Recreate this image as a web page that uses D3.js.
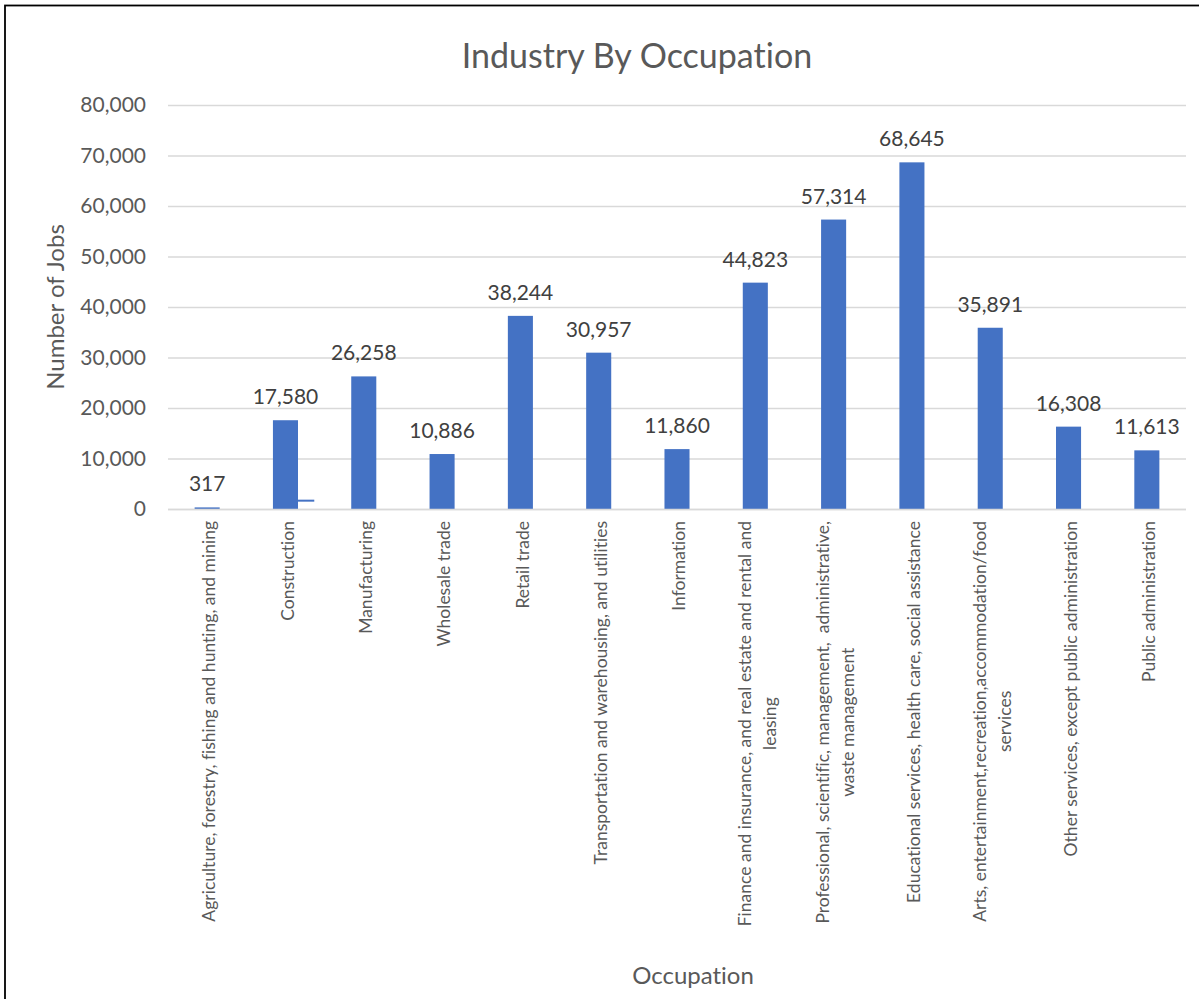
<!DOCTYPE html>
<html>
<head>
<meta charset="utf-8">
<script src="https://cdn.jsdelivr.net/npm/d3@7"></script>
<style>
  html, body { margin: 0; padding: 0; background: #fff; }
  svg { display: block; }
  text { font-family: Lato, "Open Sans", sans-serif; font-variant-ligatures: none; font-feature-settings: "liga" 0, "clig" 0; }
</style>
</head>
<body>
<svg id="chart" width="1199" height="999"></svg>
<script>
// ---- data ----
const categories = [
  ["Agriculture, forestry, fishing and hunting, and mining"],
  ["Construction"],
  ["Manufacturing"],
  ["Wholesale trade"],
  ["Retail trade"],
  ["Transportation and warehousing, and utilities"],
  ["Information"],
  ["Finance and insurance, and real estate and rental and", "leasing"],
  ["Professional, scientific, management,  administrative,", "waste management"],
  ["Educational services, health care, social assistance"],
  ["Arts, entertainment,recreation,accommodation/food", "services"],
  ["Other services, except public administration"],
  ["Public administration"]
];
const values = [317, 17580, 26258, 10886, 38244, 30957, 11860, 44823, 57314, 68645, 35891, 16308, 11613];
// small stray mark visible beside the Construction bar
const strayValues = [null, 1650, null, null, null, null, null, null, null, null, null, null, null];
const yTicks = [0, 10000, 20000, 30000, 40000, 50000, 60000, 70000, 80000];
const titleText = "Industry By Occupation";
const yTitle = "Number of Jobs";
const xTitle = "Occupation";

// ---- layout ----
const svg = d3.select("#chart");
const plotL = 168, plotR = 1186, plotT = 105, plotB = 509;
const keys = categories.map((c, i) => String(i));

const x = d3.scaleBand().domain(keys).range([plotL, plotR]).paddingInner(0.68).paddingOuter(0.34);
const y = d3.scaleLinear().domain([0, 80000]).range([plotB, plotT]);
const fmt = d3.format(",");

// frame
svg.append("rect").attr("x", 5).attr("y", 5.5).attr("width", 1400).attr("height", 1400)
  .attr("fill", "none").attr("stroke", "#000").attr("stroke-width", 1.8);

// gridlines + y axis
const yAxis = d3.axisLeft(y).tickValues(yTicks).tickFormat(fmt)
  .tickSizeInner(-(plotR - plotL)).tickSizeOuter(0).tickPadding(22);
const gy = svg.append("g").attr("transform", `translate(${plotL},0)`).call(yAxis);
gy.select(".domain").remove();
gy.selectAll(".tick line").attr("stroke", "#d9d9d9").attr("stroke-width", 1.3);
gy.selectAll(".tick text").attr("fill", "#595959").style("font-size", "21px")
  .style("font-family", "Lato, 'Open Sans', sans-serif");

// bars
svg.append("g").selectAll("rect").data(values).join("rect")
  .attr("x", (d, i) => x(keys[i]))
  .attr("y", d => y(d))
  .attr("width", x.bandwidth())
  .attr("height", d => plotB - y(d))
  .attr("fill", "#4472c4");

// stray mark
svg.append("g").selectAll("line").data(strayValues.map((v, i) => ({v, i})).filter(d => d.v != null)).join("line")
  .attr("x1", d => x(keys[d.i]) + x.bandwidth())
  .attr("x2", d => x(keys[d.i]) + x.bandwidth() * 1.65)
  .attr("y1", d => y(d.v)).attr("y2", d => y(d.v))
  .attr("stroke", "#4472c4").attr("stroke-width", 2);

// baseline
svg.append("line").attr("x1", plotL).attr("x2", plotR).attr("y1", plotB + 0.5).attr("y2", plotB + 0.5)
  .attr("stroke", "#d9d9d9").attr("stroke-width", 1.5);

// data labels
svg.append("g").selectAll("text").data(values).join("text")
  .attr("x", (d, i) => x(keys[i]) + x.bandwidth() / 2)
  .attr("y", d => y(d) - 16)
  .attr("text-anchor", "middle")
  .attr("fill", "#404040")
  .style("font-size", "21px")
  .text(d => fmt(d));

// category labels (rotated)
const labelTop = 521;
const lineH = 25;
const cg = svg.append("g").selectAll("g").data(categories).join("g")
  .attr("transform", (d, i) => `translate(${x(keys[i]) + x.bandwidth() / 2 + 2},${labelTop}) rotate(-90)`);
cg.each(function(lines) {
  const g = d3.select(this);
  const n = lines.length;
  const texts = lines.map((ln, j) => g.append("text")
    .attr("fill", "#595959")
    .style("font-size", "17.5px")
    .style("white-space", "pre")
    .attr("y", (j - (n - 1) / 2) * lineH)
    .attr("dy", "0.35em")
    .text(ln));
  const maxLen = d3.max(texts, t => t.node().getComputedTextLength());
  texts.forEach(t => t.attr("text-anchor", "middle").attr("x", -maxLen / 2));
});

// title
svg.append("text").attr("x", 637).attr("y", 68).attr("text-anchor", "middle")
  .attr("fill", "#595959").style("font-size", "34px").text(titleText);

// axis titles
svg.append("text").attr("transform", `translate(64,307) rotate(-90)`).attr("text-anchor", "middle")
  .attr("fill", "#595959").style("font-size", "24px").text(yTitle);
svg.append("text").attr("x", 693).attr("y", 984).attr("text-anchor", "middle")
  .attr("fill", "#595959").style("font-size", "24px").text(xTitle);
</script>
</body>
</html>
